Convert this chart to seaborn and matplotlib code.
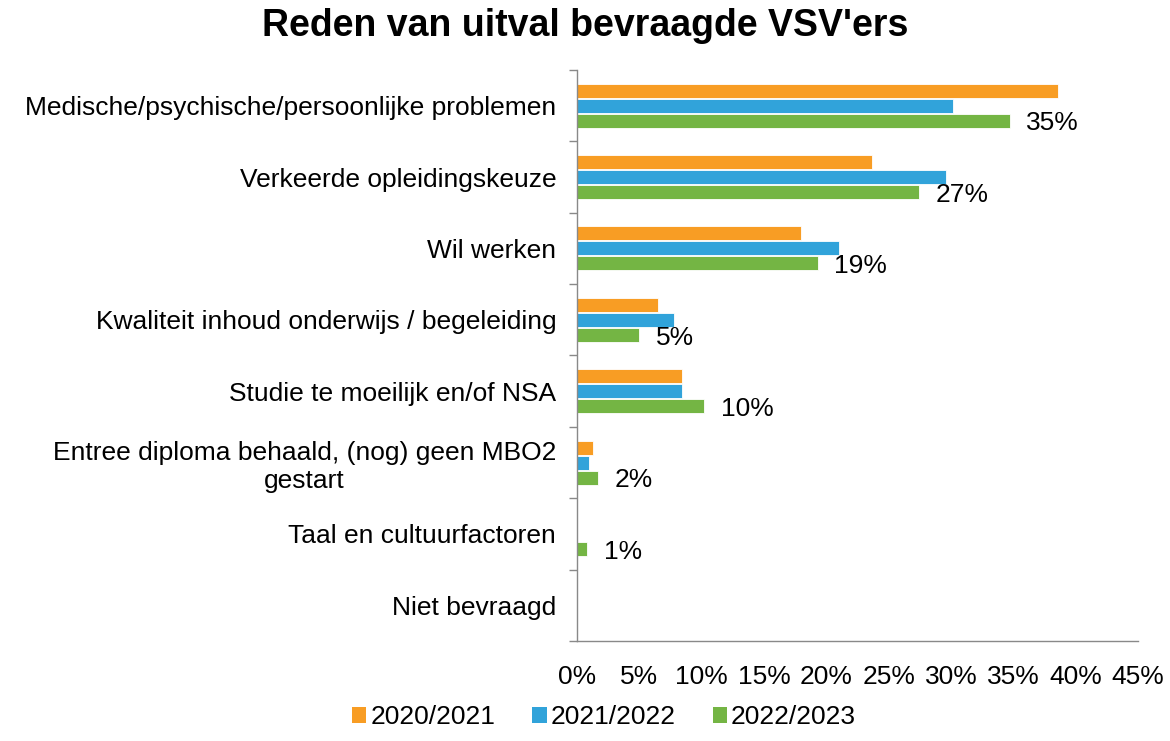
import matplotlib
matplotlib.use("Agg")
import matplotlib.pyplot as plt
from matplotlib.patches import Patch
from matplotlib.ticker import FixedLocator
import seaborn as sns
import pandas as pd

redenen = [
    "Medische/psychische/persoonlijke problemen",
    "Verkeerde opleidingskeuze",
    "Wil werken",
    "Kwaliteit inhoud onderwijs / begeleiding",
    "Studie te moeilijk en/of NSA",
    "Entree diploma behaald, (nog) geen MBO2\ngestart",
    "Taal en cultuurfactoren",
    "Niet bevraagd",
]
jaren = ["2020/2021", "2021/2022", "2022/2023"]
pct_2020 = [38.6, 23.7, 18.0, 6.5, 8.4, 1.3, 0.0, 0.0]
pct_2021 = [30.2, 29.6, 21.0, 7.8, 8.4, 1.0, 0.0, 0.0]
pct_2022 = [34.7, 27.4, 19.3, 5.0, 10.2, 1.7, 0.8, 0.0]
x_ticks = [0, 5, 10, 15, 20, 25, 30, 35, 40, 45]
kleuren = ["#F89D24", "#31A3DA", "#74B544"]

rows = []
for jaar, waarden in zip(jaren, [pct_2020, pct_2021, pct_2022]):
    for reden, w in zip(redenen, waarden):
        rows.append({"reden": reden, "jaar": jaar, "pct": w})
df = pd.DataFrame(rows)

sns.set_style("white")
plt.rcParams["font.family"] = ["Liberation Sans", "DejaVu Sans"]
plt.rcParams["text.color"] = "black"
plt.rcParams["xtick.labelcolor"] = "black"
plt.rcParams["ytick.labelcolor"] = "black"

fs = 19

fig = plt.figure(figsize=(11.7, 7.41), dpi=100)
ax = fig.add_axes([577 / 1170, 1 - 641 / 741, (1138 - 577) / 1170, (641 - 70) / 741])

sns.barplot(data=df, y="reden", x="pct", hue="jaar", orient="h", palette=kleuren,
            saturation=1, width=0.63, gap=0.06, edgecolor="white", linewidth=0.6,
            legend=False, ax=ax)

# labels alleen voor 2022/2023
for bar, w in zip(ax.containers[2], pct_2022):
    if w == 0:
        continue
    ax.annotate(f"{w:.0f}%", (bar.get_width(), bar.get_y() + bar.get_height() / 2),
                xytext=(12, -2), textcoords="offset points", ha="left", va="center",
                fontsize=fs, color="black")

ax.set_xlim(0, 45)
ax.set_ylim(7.5, -0.5)
ax.xaxis.set_major_locator(FixedLocator(x_ticks))
ax.set_xticklabels([f"{t}%" for t in x_ticks])
ax.set_xlabel("")
ax.set_ylabel("")
ax.tick_params(axis="x", length=0, pad=17, labelsize=fs)
ax.tick_params(axis="y", which="major", length=0, pad=15, labelsize=fs)
for lbl in ax.get_yticklabels():
    lbl.set_multialignment("center")
ax.yaxis.set_minor_locator(FixedLocator([i - 0.5 for i in range(len(redenen) + 1)]))
ax.tick_params(axis="y", which="minor", left=True, length=5.5, width=1, color="#898989",
               direction="out")

for side in ["top", "right"]:
    ax.spines[side].set_visible(False)
for side in ["left", "bottom"]:
    ax.spines[side].set_color("#898989")
    ax.spines[side].set_linewidth(1)

fig.text(0.5, 1 - 26 / 741, "Reden van uitval bevraagde VSV'ers", ha="center", va="center",
         fontsize=27, fontweight="bold")

handles = [Patch(facecolor=k, edgecolor="none") for k in kleuren]
fig.legend(handles, jaren, loc="center", bbox_to_anchor=(604 / 1170, 1 - 717 / 741), ncol=3,
           frameon=False, fontsize=fs, handlelength=0.55, handleheight=0.55,
           handletextpad=0.15, columnspacing=1.4)

fig.savefig("out.png", dpi=100)
